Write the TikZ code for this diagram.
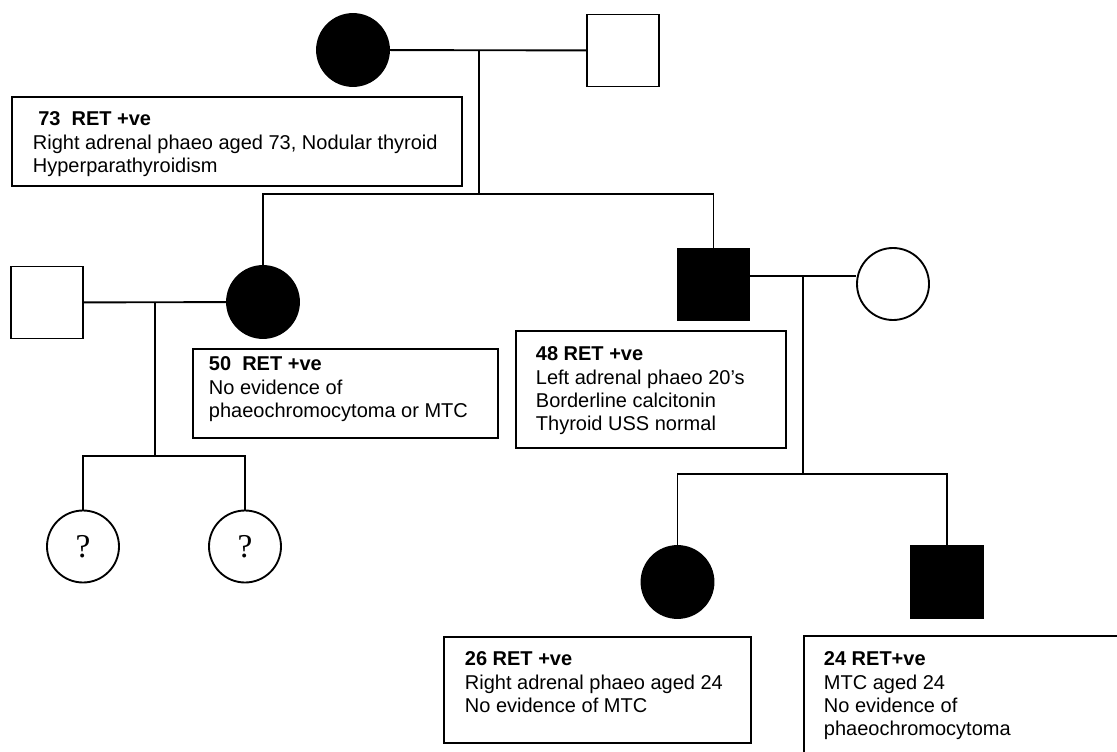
\documentclass[tikz,border=0pt]{standalone}
\usepackage{fontspec}
\setmainfont{Liberation Sans}
\newfontfamily\qfont{Liberation Serif}
\tikzset{
  affected/.style={fill=black},
  female/.style={draw, circle, minimum size=54pt, inner sep=0pt},
  male/.style={draw, rectangle, minimum size=54pt, inner sep=0pt},
  unknown/.style={font=\qfont\fontsize{25}{28}\selectfont},
  infobox/.style={draw, rectangle, anchor=north west, inner sep=0pt},
  infotext/.style={anchor=north west, inner sep=0pt, align=left, font=\fontsize{15}{17.5}\selectfont},
}
\begin{document}
\begin{tikzpicture}[x=0.75pt, y=-0.75pt, line width=1.4pt]
\useasboundingbox (0,0) rectangle (1117,752);
\clip (0,0) rectangle (1117,752);
% first generation
\node[female, affected] (gm) at (353,50) {};
\node[male] (gf) at (623,50.5) {};
\coordinate (m1) at (479,50);
\coordinate (s1) at (479,194);
\draw (gm) -- (gf);
\draw (m1) -- (s1);
\node[infobox, minimum width=337.5pt, minimum height=66.75pt] (b73) at (11,96) {};
\node[infotext] (t73) at ([shift={(21,15)}]b73.north west) {\hspace{4pt}\textbf{73\ \ RET +ve}\\ Right adrenal phaeo aged 73, Nodular thyroid\\ Hyperparathyroidism};
% second generation
\node[female, affected] (d1) at (263,302) {};
\node[male] (h1) at (47,302.5) {};
\node[male, affected] (son) at (713.5,284.5) {};
\node[female] (wife) at (893,284) {};
\draw (d1) -- (d1 |- s1) -- (son |- s1) -- (son);
\draw (h1) -- (d1);
\coordinate (m2) at (155,302);
\coordinate (s2) at (155,456);
\draw (m2) -- (s2);
\coordinate (m3) at (803,276);
\coordinate (s3) at (803,474);
\draw (son.east |- m3) -- (wife.west |- m3);
\draw (m3) -- (s3);
\node[infobox, minimum width=228.75pt, minimum height=66.75pt] (b50) at (192,348) {};
\node[infotext] (t50) at ([shift={(16,8)}]b50.north west) {\textbf{50\ \ RET +ve}\\ No evidence of\\ phaeochromocytoma or MTC};
\node[infobox, minimum width=202.5pt, minimum height=87.75pt] (b48) at (515,330) {};
\node[infotext] (t48) at ([shift={(20,16)}]b48.north west) {\textbf{48 RET +ve}\\ Left adrenal phaeo 20’s\\ Borderline calcitonin\\ Thyroid USS normal};
% third generation
\node[female, unknown] (q1) at (83,546.5) {?};
\node[female, unknown] (q2) at (245,546.5) {?};
\draw (q1) -- (q1 |- s2) -- (q2 |- s2) -- (q2);
\node[female, affected] (gd) at (677.5,582) {};
\node[male, affected] (gs) at (947,582) {};
\draw (gd) -- (gd |- s3) -- (gs |- s3) -- (gs);
\node[infobox, minimum width=230.25pt, minimum height=79.5pt] (b26) at (443,636) {};
\node[infotext] (t26) at ([shift={(21,15)}]b26.north west) {\textbf{26 RET +ve}\\ Right adrenal phaeo aged 24\\ No evidence of MTC};
\node[infobox, minimum width=300pt, minimum height=150pt] (b24) at (803,635) {};
\node[infotext] (t24) at ([shift={(20,16)}]b24.north west) {\textbf{24 RET+ve}\\ MTC aged 24\\ No evidence of\\ phaeochromocytoma};
\end{tikzpicture}
\end{document}
